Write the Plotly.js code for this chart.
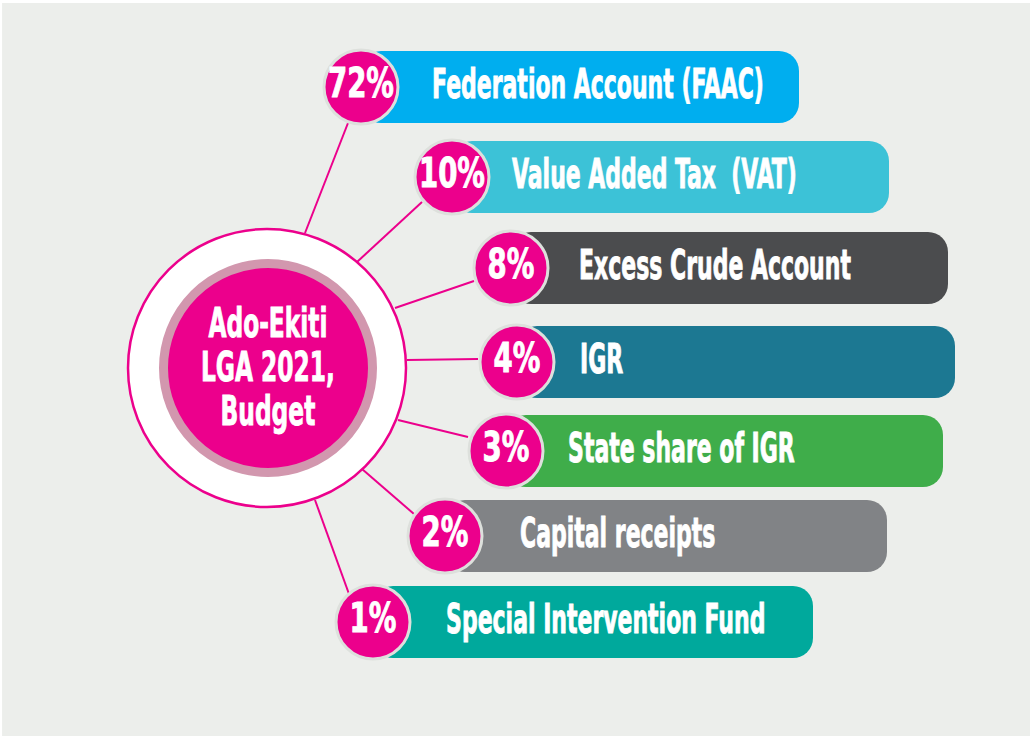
<!DOCTYPE html>
<html>
<head>
<meta charset="utf-8">
<script src="https://cdn.plot.ly/plotly-3.0.1.min.js"></script>
<style>
  html, body { margin: 0; padding: 0; background: #ECEEEB; }
  #chart { width: 1030px; height: 736px; }
</style>
</head>
<body>
<div id="chart"></div>
<script>
// ---- data ----
const categories = [
  'Federation Account (FAAC)',
  'Value Added Tax  (VAT)',
  'Excess Crude Account',
  'IGR',
  'State share of IGR',
  'Capital receipts',
  'Special Intervention Fund'
];
const shares = [72, 10, 8, 4, 3, 2, 1];
const centerTitle = ['Ado-Ekiti', 'LGA 2021,', 'Budget'];

// ---- styling / layout geometry (pixel space) ----
const barColors = ['#00AEEF', '#3CC2D7', '#4B4C4E', '#1C7892', '#3FAD4A', '#818386', '#00A99C'];
const rowY     = [87, 177, 268, 362, 451, 536, 622];
const circleX  = [361, 452, 511, 517, 506, 445, 373];
const barEnd   = [799, 889, 948, 955, 943, 887, 813];
const textX    = [430, 510, 577, 578, 566, 518, 444];
const lineFrom = [[305, 233], [357, 262], [395, 308], [407, 360], [398, 420], [362, 469], [315, 500]];
const lineTo   = [[348, 123], [422, 202], [474, 281], [478, 359], [468, 437], [414, 514], [349, 594]];
const hub = [267, 368];
const MAGENTA = '#EC008C';
const FONT = '"DejaVu Sans Condensed", "DejaVu Sans", sans-serif';

const traces = [];

// bars
traces.push({
  type: 'bar',
  orientation: 'h',
  y: rowY,
  base: circleX,
  x: barEnd.map((e, i) => e - circleX[i]),
  width: 72,
  marker: { color: barColors, cornerradius: 20, line: { width: 0 } },
  hoverinfo: 'skip'
});

// connector lines
lineFrom.forEach((p, i) => {
  traces.push({
    type: 'scatter', mode: 'lines',
    x: [p[0], lineTo[i][0]], y: [p[1], lineTo[i][1]],
    line: { color: MAGENTA, width: 2 },
    hoverinfo: 'skip'
  });
});

// hub circles
traces.push({
  type: 'scatter', mode: 'markers',
  x: [hub[0]], y: [hub[1]],
  marker: { size: 278, color: '#FFFFFF', line: { color: MAGENTA, width: 2.5 } },
  hoverinfo: 'skip'
});
traces.push({
  type: 'scatter', mode: 'markers',
  x: [hub[0] + 1], y: [hub[1]],
  marker: { size: 209, color: MAGENTA, line: { color: '#D297AE', width: 9 } },
  hoverinfo: 'skip'
});

// percentage circles
traces.push({
  type: 'scatter', mode: 'markers+text',
  x: circleX, y: rowY,
  text: shares.map(s => s + '%'),
  textposition: 'middle center',
  textfont: { family: FONT, size: 40, color: '#FFFFFF', weight: 'bold' },
  marker: { size: 74, color: MAGENTA, line: { color: '#DDE0DC', width: 3 } },
  hoverinfo: 'skip'
});

const annotations = categories.map((c, i) => ({
  x: textX[i], y: rowY[i] - 3, xref: 'x', yref: 'y',
  text: '<b>' + c + '</b>', showarrow: false,
  xanchor: 'left', yanchor: 'middle',
  font: { family: FONT, size: 40, color: '#FFFFFF' }
}));
annotations.push({
  x: hub[0] + 1, y: hub[1], xref: 'x', yref: 'y',
  text: '<b>' + centerTitle.join('<br>') + '</b>', showarrow: false,
  xanchor: 'center', yanchor: 'middle', align: 'center',
  font: { family: FONT, size: 41, color: '#FFFFFF' }
});

const layout = {
  width: 1030, height: 736,
  margin: { l: 0, r: 0, t: 0, b: 0, pad: 0 },
  paper_bgcolor: '#ECEEEB', plot_bgcolor: '#ECEEEB',
  showlegend: false,
  hovermode: false,
  xaxis: { range: [0, 1030], visible: false, fixedrange: true },
  yaxis: { range: [736, 0], visible: false, fixedrange: true },
  annotations: annotations,
  shapes: [
    { type: 'rect', xref: 'paper', yref: 'paper', x0: 0, x1: 1, y0: 1, y1: 0.996, fillcolor: '#FFFFFF', line: { width: 0 } },
    { type: 'rect', xref: 'paper', yref: 'paper', x0: 0, x1: 0.002, y0: 0, y1: 1, fillcolor: '#FFFFFF', line: { width: 0 } }
  ]
};

// horizontally condense text to imitate the narrow display typeface
function condense(el, s, anchor, dy) {
  const b = el.getBBox();
  const cx = anchor === 'left' ? b.x : b.x + b.width / 2;
  el.setAttribute('transform', 'translate(' + cx + ',' + (dy || 0) + ') scale(' + s + ',1) translate(' + (-cx) + ',0)');
  el.style.stroke = '#FFFFFF';
  el.style.strokeWidth = '0.9px';
}

Plotly.newPlot('chart', traces, layout, { staticPlot: true, displayModeBar: false }).then(gd => {
  const annTexts = gd.querySelectorAll('.annotation .annotation-text');
  // reference width of first label "Federation Account (FAAC)" is ~332 px
  const labelScale = 332 / annTexts[0].getBBox().width;
  for (let i = 0; i < categories.length; i++) condense(annTexts[i], labelScale, 'left');

  // hub title: tighter line spacing, fit "LGA 2021," to ~134 px, centred on the hub
  const title = annTexts[categories.length];
  const lines = title.querySelectorAll('tspan.line');
  lines.forEach((t, i) => { t.setAttribute('dy', String(i * 44)); });
  let widest = 0;
  lines.forEach(t => { widest = Math.max(widest, t.getComputedTextLength()); });
  const r = title.getBoundingClientRect();
  const shift = 367 - (r.top + r.height / 2);
  condense(title, 134 / widest, 'center', shift);

  const pctTexts = gd.querySelectorAll('.textpoint text');
  const pctScale = 66 / pctTexts[0].getBBox().width;
  pctTexts.forEach(el => condense(el, pctScale, 'center'));
});
</script>
</body>
</html>
